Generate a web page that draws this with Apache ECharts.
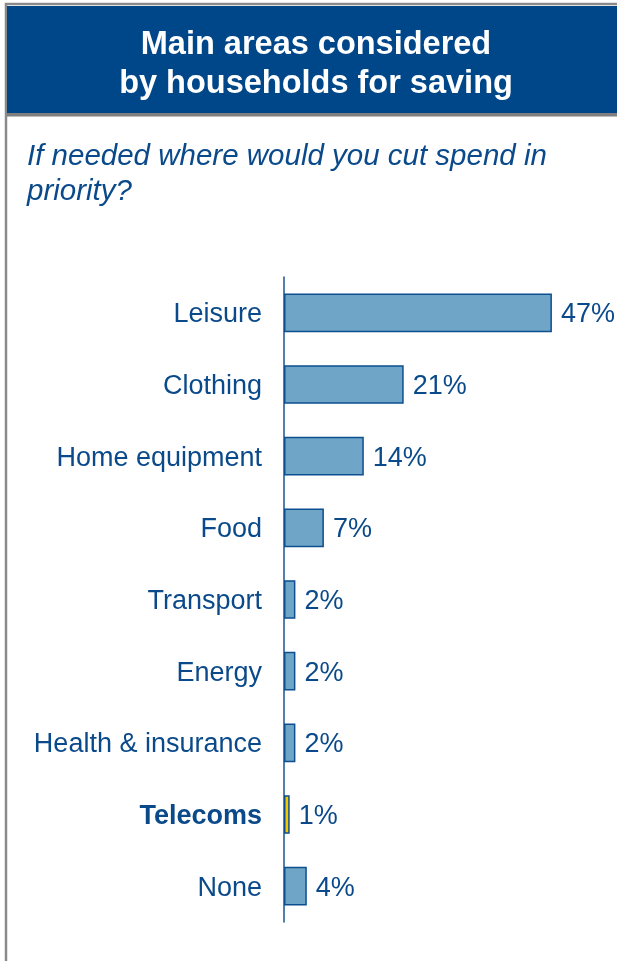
<!DOCTYPE html>
<html>
<head>
<meta charset="utf-8">
<script src="https://cdn.jsdelivr.net/npm/echarts@6/dist/echarts.min.js"></script>
<style>
  html, body { margin: 0; padding: 0; background: #ffffff; }
  #chart { width: 617px; height: 961px; }
</style>
</head>
<body>
<div id="chart"></div>
<script>
// Spending areas households would cut first, share of respondents (%)
const categories = ['Leisure', 'Clothing', 'Home equipment', 'Food', 'Transport', 'Energy', 'Health & insurance', 'Telecoms', 'None'];
const shares = [47, 21, 14, 7, 2, 2, 2, 1, 4];
const highlighted = 'Telecoms';

const navy = '#00478a';
const textBlue = '#0b4a8a';
const barFill = '#6fa6c7';
const highlightFill = '#f6c800';
const font = 'Liberation Sans, Arial, sans-serif';

const chart = echarts.init(document.getElementById('chart'), null, { renderer: 'canvas' });

chart.setOption({
  animation: false,
  backgroundColor: '#ffffff',
  graphic: [
    // outer frame
    { type: 'rect', shape: { x: 6, y: 4, width: 640, height: 1000 },
      style: { fill: '#ffffff', stroke: '#8a8a8a', lineWidth: 2.5 }, z: 0 },
    // header band
    { type: 'rect', shape: { x: 7, y: 6, width: 620, height: 108 },
      style: { fill: navy }, z: 1 },
    { type: 'rect', shape: { x: 7, y: 113, width: 620, height: 3.5 },
      style: { fill: '#7f7f7f' }, z: 1 }
  ],
  title: [
    {
      text: 'Main areas considered\nby households for saving',
      left: 311, top: 21, textAlign: 'center',
      textStyle: { color: '#ffffff', fontFamily: font,
        fontSize: 32.5, fontWeight: 'bold', lineHeight: 39 },
      z: 5
    },
    {
      text: 'If needed where would you cut spend in\npriority?',
      left: 22, top: 134,
      textStyle: { color: textBlue, fontFamily: font,
        fontSize: 29.5, fontStyle: 'italic', fontWeight: 'normal', lineHeight: 35 },
      z: 5
    }
  ],
  grid: { left: 284, top: 277, width: 285, height: 645, containLabel: false },
  xAxis: {
    type: 'value', min: 0, max: 50, show: false
  },
  yAxis: {
    type: 'category', data: categories, inverse: true,
    axisLine: { show: true, lineStyle: { color: '#1a5590', width: 1.5 } },
    axisTick: { show: false },
    splitLine: { show: false },
    axisLabel: {
      margin: 22,
      color: textBlue,
      fontFamily: font,
      fontSize: 27,
      padding: [4, 0, 0, 0],
      formatter: function (v) { return v === highlighted ? '{b|' + v + '}' : v; },
      rich: { b: { fontWeight: 'bold', fontSize: 27, color: textBlue, fontFamily: font } }
    }
  },
  series: [{
    type: 'bar',
    barCategoryGap: '46%',
    data: shares.map(function (v, i) {
      return {
        value: v,
        itemStyle: {
          color: categories[i] === highlighted ? highlightFill : barFill,
          borderColor: '#0d4f8e', borderWidth: 1.5
        }
      };
    }),
    label: {
      show: true, position: 'right', distance: 9,
      offset: [0, 2],
      formatter: '{c}%',
      color: textBlue,
      fontFamily: font,
      fontSize: 27
    },
    z: 3
  }]
});
</script>
</body>
</html>
